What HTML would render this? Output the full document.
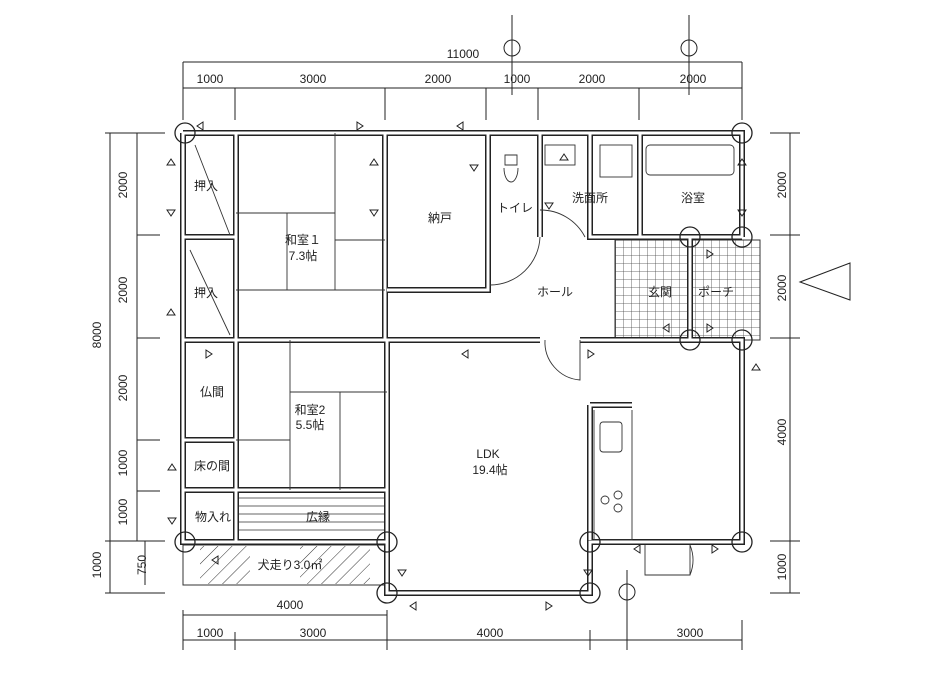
<!DOCTYPE html>
<html><head><meta charset="utf-8"><style>
html,body{margin:0;padding:0;background:#fff;}
svg{display:block;}
text{font-family:"Liberation Sans","Noto Sans CJK JP",sans-serif;fill:#222;}
</style></head><body>
<svg width="926" height="685" viewBox="0 0 926 685" xmlns="http://www.w3.org/2000/svg">
<g stroke="#222" fill="none" stroke-width="1">
<!-- dimension lines top -->
<line x1="183" y1="62" x2="742" y2="62"/>
<line x1="183" y1="88" x2="742" y2="88"/>
<line x1="183" y1="62" x2="183" y2="120"/><line x1="742" y1="62" x2="742" y2="120"/>
<line x1="235" y1="88" x2="235" y2="120"/><line x1="385" y1="88" x2="385" y2="120"/>
<line x1="486" y1="88" x2="486" y2="120"/><line x1="538" y1="88" x2="538" y2="120"/>
<line x1="639" y1="88" x2="639" y2="120"/>
<line x1="512" y1="15" x2="512" y2="95"/><line x1="689" y1="15" x2="689" y2="95"/>
<circle cx="512" cy="48" r="8"/><circle cx="689" cy="48" r="8"/>
<!-- left -->
<line x1="110" y1="133" x2="110" y2="541"/>
<line x1="137" y1="133" x2="137" y2="541"/>
<line x1="105" y1="133" x2="165" y2="133"/><line x1="137" y1="235" x2="160" y2="235"/>
<line x1="137" y1="338" x2="160" y2="338"/><line x1="137" y1="440" x2="160" y2="440"/>
<line x1="137" y1="491" x2="160" y2="491"/><line x1="105" y1="541" x2="165" y2="541"/>
<line x1="110" y1="541" x2="110" y2="593"/><line x1="145" y1="541" x2="145" y2="585"/>
<line x1="105" y1="593" x2="165" y2="593"/>
<!-- right -->
<line x1="790" y1="133" x2="790" y2="593"/>
<line x1="770" y1="133" x2="800" y2="133"/><line x1="770" y1="235" x2="800" y2="235"/>
<line x1="770" y1="338" x2="800" y2="338"/><line x1="770" y1="541" x2="800" y2="541"/>
<line x1="770" y1="593" x2="800" y2="593"/>
<polygon points="800,282 850,263 850,300"/>
<!-- bottom -->
<line x1="183" y1="615" x2="387" y2="615"/>
<line x1="183" y1="640" x2="742" y2="640"/>
<line x1="183" y1="610" x2="183" y2="650"/><line x1="235" y1="632" x2="235" y2="650"/>
<line x1="387" y1="610" x2="387" y2="650"/><line x1="590" y1="630" x2="590" y2="650"/>
<line x1="742" y1="620" x2="742" y2="650"/>
<line x1="627" y1="570" x2="627" y2="650"/><circle cx="627" cy="592" r="8"/>
</g>
<!-- porch tiles -->
<defs><pattern id="t" width="8" height="8" patternUnits="userSpaceOnUse"><path d="M8 0V8H0" fill="none" stroke="#444" stroke-width="0.8"/></pattern>
<pattern id="h" width="10" height="10" patternUnits="userSpaceOnUse" patternTransform="rotate(45)"><line x1="0" y1="0" x2="0" y2="10" stroke="#333" stroke-width="1"/></pattern></defs>
<rect x="615" y="240" width="145" height="100" fill="url(#t)" stroke="#333"/>
<rect x="183" y="545" width="204" height="40" fill="none" stroke="#333"/>
<rect x="200" y="546" width="50" height="38" fill="url(#h)"/>
<rect x="300" y="546" width="70" height="38" fill="url(#h)"/>
<!-- engawa lines -->
<g stroke="#333" stroke-width="0.8">
<line x1="236" y1="498" x2="387" y2="498"/><line x1="236" y1="506" x2="387" y2="506"/>
<line x1="236" y1="514" x2="387" y2="514"/><line x1="236" y1="522" x2="387" y2="522"/>
<line x1="236" y1="530" x2="387" y2="530"/>
</g>
<!-- walls -->
<g stroke="#222" stroke-width="6" fill="none">
<path d="M183 133H742V237"/>
<path d="M183 133V542H387"/>
<path d="M236 133V490"/><path d="M385 133V340"/>
<path d="M387 340V593H590V542H742V340H580"/>
<path d="M183 340H540"/>
<path d="M183 237H236M183 440H236M183 490H387M236 490V542"/>
<path d="M488 133V290H387"/>
<path d="M540 133V237M488 237H490"/>
<path d="M590 133V237H640M640 133V237H742"/>
<path d="M690 237V340"/>
<path d="M590 405V540M590 405H632"/>
</g>
<g stroke="#fff" stroke-width="3" fill="none">
<path d="M183 133H742V237"/>
<path d="M183 133V542H387"/>
<path d="M236 133V490"/><path d="M385 133V340"/>
<path d="M387 340V593H590V542H742V340H580"/>
<path d="M183 340H540"/>
<path d="M183 237H236M183 440H236M183 490H387M236 490V542"/>
<path d="M488 133V290H387"/>
<path d="M540 133V237"/>
<path d="M590 133V237H640M640 133V237H742"/>
<path d="M690 237V340"/>
<path d="M590 405V540M590 405H632"/>
</g>
<!-- tatami / interior lines -->
<g stroke="#333" stroke-width="0.9" fill="none">
<path d="M236 213H335M287 213V290M236 290H385M335 133V290M335 240H385"/>
<path d="M236 440H290M290 340V490M290 392H387M340 392V490"/>
<path d="M594 410V540H632V410"/>
<rect x="600" y="422" width="22" height="30" rx="3"/>
<circle cx="605" cy="500" r="4"/><circle cx="618" cy="495" r="4"/><circle cx="618" cy="508" r="4"/>
<rect x="646" y="145" width="88" height="30" rx="4"/>
<rect x="600" y="145" width="32" height="32"/>
<rect x="545" y="145" width="30" height="20"/>
<path d="M505 155h12v10h-12zM504 168a7 14 0 0 0 14 0"/>
<path d="M490 285A50 50 0 0 0 540 237"/>
<path d="M540 210A50 50 0 0 1 585 237"/>
<path d="M545 340A38 38 0 0 0 580 380V340"/>
<path d="M645 545V575H690V545M690 575A40 40 0 0 0 690 545"/>
<path d="M195 145L230 235M190 250L230 335"/>
</g>
<!-- column circles -->
<g stroke="#222" stroke-width="1.3" fill="none">
<circle cx="185" cy="133" r="10"/><circle cx="742" cy="133" r="10"/>
<circle cx="690" cy="237" r="10"/><circle cx="742" cy="237" r="10"/>
<circle cx="690" cy="340" r="10"/><circle cx="742" cy="340" r="10"/>
<circle cx="185" cy="542" r="10"/><circle cx="387" cy="542" r="10"/>
<circle cx="387" cy="593" r="10"/><circle cx="590" cy="542" r="10"/>
<circle cx="590" cy="593" r="10"/><circle cx="742" cy="542" r="10"/>
</g>
<!-- small triangles -->
<g stroke="#222" fill="none" stroke-width="1">
<path d="M203 122l-6 4 6 4z"/><path d="M357 122l6 4-6 4z"/><path d="M463 122l-6 4 6 4z"/>
<path d="M167 165l4-6 4 6z"/><path d="M167 210l4 6 4-6z"/><path d="M167 315l4-6 4 6z"/>
<path d="M370 165l4-6 4 6z"/><path d="M370 210l4 6 4-6z"/><path d="M470 165l4 6 4-6z"/>
<path d="M206 350l6 4-6 4z"/><path d="M468 350l-6 4 6 4z"/><path d="M588 350l6 4-6 4z"/>
<path d="M168 470l4-6 4 6z"/><path d="M168 518l4 6 4-6z"/>
<path d="M738 165l4-6 4 6z"/><path d="M738 210l4 6 4-6z"/>
<path d="M398 570l4 6 4-6z"/><path d="M212 560l6-4 0 8z"/>
<path d="M545 203l4 6 4-6z"/><path d="M560 160l4-6 4 6z"/>
<path d="M640 545l-6 4 6 4z"/><path d="M712 545l6 4-6 4z"/>
<path d="M752 370l4-6 4 6z"/><path d="M584 570l4 6 4-6z"/>
<path d="M707 324l6 4-6 4z"/><path d="M669 324l-6 4 6 4z"/><path d="M707 250l6 4-6 4z"/>
<path d="M416 602l-6 4 6 4z"/><path d="M546 602l6 4-6 4z"/>
</g>
<!-- labels -->
<g font-size="12">
<text x="463" y="58" text-anchor="middle">11000</text>
<text x="210" y="83" text-anchor="middle">1000</text><text x="313" y="83" text-anchor="middle">3000</text>
<text x="438" y="83" text-anchor="middle">2000</text><text x="517" y="83" text-anchor="middle">1000</text>
<text x="592" y="83" text-anchor="middle">2000</text><text x="693" y="83" text-anchor="middle">2000</text>
<text transform="translate(101,335) rotate(-90)" text-anchor="middle">8000</text>
<text transform="translate(127,185) rotate(-90)" text-anchor="middle">2000</text>
<text transform="translate(127,290) rotate(-90)" text-anchor="middle">2000</text>
<text transform="translate(127,388) rotate(-90)" text-anchor="middle">2000</text>
<text transform="translate(127,463) rotate(-90)" text-anchor="middle">1000</text>
<text transform="translate(127,512) rotate(-90)" text-anchor="middle">1000</text>
<text transform="translate(101,565) rotate(-90)" text-anchor="middle">1000</text>
<text transform="translate(146,565) rotate(-90)" text-anchor="middle">750</text>
<text transform="translate(786,185) rotate(-90)" text-anchor="middle">2000</text>
<text transform="translate(786,288) rotate(-90)" text-anchor="middle">2000</text>
<text transform="translate(786,432) rotate(-90)" text-anchor="middle">4000</text>
<text transform="translate(786,567) rotate(-90)" text-anchor="middle">1000</text>
<text x="290" y="609" text-anchor="middle">4000</text>
<text x="210" y="637" text-anchor="middle">1000</text><text x="313" y="637" text-anchor="middle">3000</text>
<text x="490" y="637" text-anchor="middle">4000</text><text x="690" y="637" text-anchor="middle">3000</text>
<text x="206" y="190" text-anchor="middle">押入</text><text x="206" y="297" text-anchor="middle">押入</text>
<text x="303" y="244" text-anchor="middle">和室１</text><text x="303" y="260" text-anchor="middle">7.3帖</text>
<text x="440" y="222" text-anchor="middle">納戸</text><text x="515" y="212" text-anchor="middle">トイレ</text>
<text x="590" y="202" text-anchor="middle">洗面所</text><text x="693" y="202" text-anchor="middle">浴室</text>
<text x="555" y="296" text-anchor="middle">ホール</text><text x="660" y="296" text-anchor="middle">玄関</text>
<text x="716" y="296" text-anchor="middle">ポーチ</text>
<text x="212" y="396" text-anchor="middle">仏間</text>
<text x="310" y="414" text-anchor="middle">和室2</text><text x="310" y="429" text-anchor="middle">5.5帖</text>
<text x="212" y="470" text-anchor="middle">床の間</text>
<text x="488" y="458" text-anchor="middle">LDK</text><text x="490" y="474" text-anchor="middle">19.4帖</text>
<text x="213" y="521" text-anchor="middle">物入れ</text><text x="318" y="521" text-anchor="middle">広縁</text>
<text x="290" y="569" text-anchor="middle">犬走り3.0㎡</text>
</g>
</svg>
</body></html>
